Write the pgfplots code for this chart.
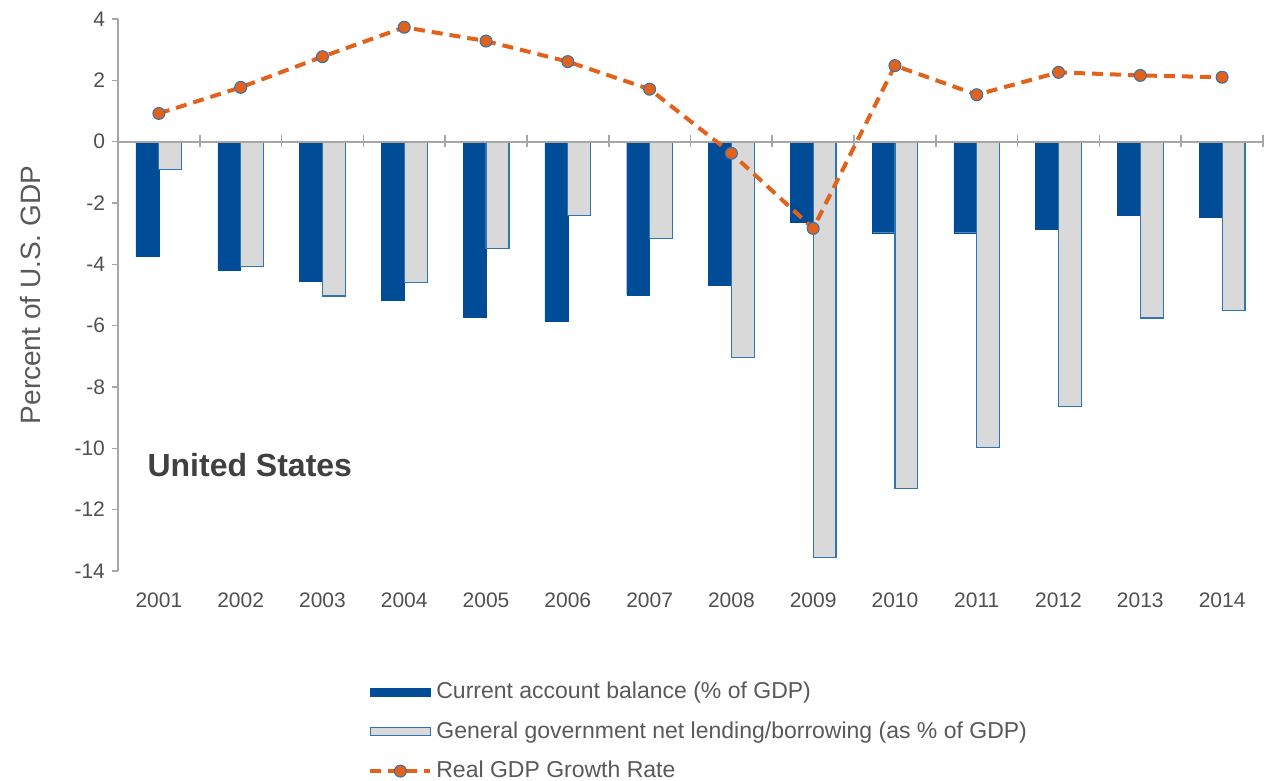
\documentclass[border=0pt]{standalone}
\usepackage{fontspec}
\setmainfont{Liberation Sans}
\usepackage{pgfplots}
\pgfplotsset{compat=1.18}
\usepackage{pgfplotstable}

\definecolor{cabar}{HTML}{004C97}
\definecolor{govfill}{HTML}{D9D9D9}
\definecolor{govedge}{HTML}{2E75B6}
\definecolor{gdporange}{HTML}{E2611B}
\definecolor{axisgray}{HTML}{A6A6A6}
\definecolor{txtgray}{HTML}{595959}

\pgfplotsset{
  barleg/.style={legend image code/.code={\draw[##1] (0pt,-2pt) rectangle (30pt,2pt);}},
  lineleg/.style={legend image code/.code={\draw[mark repeat=2, mark phase=2, ##1]
    plot coordinates {(0pt,0pt) (15pt,0pt) (30pt,0pt)};}},
}

% year index, current account, gov lending, real GDP growth
\pgfplotstableread{
x  ca     gov     gdp
0  -3.75  -0.90   0.92
1  -4.20  -4.08   1.77
2  -4.54  -5.03   2.77
3  -5.16  -4.60   3.73
4  -5.74  -3.48   3.28
5  -5.85  -2.41   2.61
6  -5.00  -3.17   1.71
7  -4.68  -7.04  -0.38
8  -2.64  -13.56 -2.83
9  -2.97  -11.31  2.48
10 -2.97  -9.96   1.53
11 -2.84  -8.63   2.26
12 -2.41  -5.75   2.16
13 -2.47  -5.51   2.10
}\usdata

\begin{document}
\begin{tikzpicture}
\useasboundingbox (-59pt,-105pt) rectangle (573.5pt,285.5pt);
\begin{axis}[
  scale only axis,
  width=572.5pt, height=276pt,
  xmin=-0.5, xmax=13.5,
  ymin=-14, ymax=4,
  ytick={-14,-12,...,4},
  xtick={0,...,13},
  xticklabels={2001,2002,2003,2004,2005,2006,2007,2008,2009,2010,2011,2012,2013,2014},
  axis y line=left,
  axis x line=bottom,
  x axis line style={draw=none},
  y axis line style={-, axisgray, line width=0.8pt},
  xtick style={draw=none},
  ytick style={axisgray, line width=0.8pt},
  tick align=outside,
  major tick length=3pt,
  /pgf/number format/assume math mode=true,
  tick label style={font=\fontsize{10.5}{12}\selectfont, text=txtgray!90!black},
  x tick label style={yshift=-4.5pt},
  ylabel={Percent of U.S. GDP},
  ylabel shift=10pt,
  ylabel style={font=\fontsize{14}{16}\selectfont, text=txtgray},
  ybar=0pt,
  bar width=0.28,
  legend style={at={(0.2183,-0.193)}, anchor=north west, draw=none,
    font=\fontsize{11.5}{13}\selectfont, text=txtgray,
    row sep=6pt, inner sep=0pt},
  legend cell align=left,
  clip=false,
]
\addplot[fill=cabar, draw=cabar, line width=0.2pt, barleg]
  table[x=x, y=ca] {\usdata};
\addlegendentry{Current account balance (\% of GDP)}
\addplot[fill=govfill, draw=govedge, line width=0.6pt, barleg]
  table[x=x, y=gov] {\usdata};
\addlegendentry{General government net lending/borrowing (as \% of GDP)}

\draw[axisgray, line width=1pt] (axis cs:-0.5,0) -- (axis cs:13.5,0);
\pgfplotsinvokeforeach{0.5,1.5,2.5,3.5,4.5,5.5,6.5,7.5,8.5,9.5,10.5,11.5,12.5,13.5}{
  \draw[axisgray, line width=0.8pt] ([yshift=-2.5pt]axis cs:#1,0) -- ([yshift=3.5pt]axis cs:#1,0);
}

\addplot[sharp plot, gdporange, line width=2pt, dash pattern=on 5.5pt off 3.5pt,
  mark=*, mark size=3pt,
  mark options={solid, fill=gdporange, draw=govedge, line width=0.5pt}, lineleg]
  table[x=x, y=gdp] {\usdata};
\addlegendentry{Real GDP Growth Rate}

\node[anchor=west, font=\bfseries\fontsize{16}{18}\selectfont, text=black!75]
  at (axis cs:-0.225,-10.54) {United States};
\end{axis}
\end{tikzpicture}
\end{document}
